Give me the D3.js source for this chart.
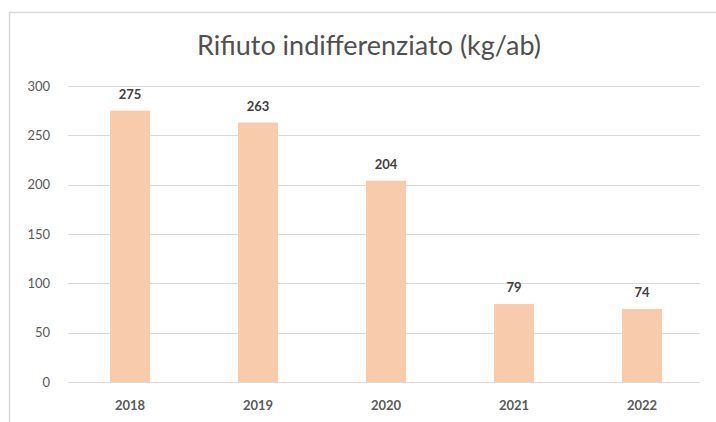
<!DOCTYPE html>
<html>
<head>
<meta charset="utf-8">
<script src="https://cdn.jsdelivr.net/npm/d3@7"></script>
<style>
  html, body { margin: 0; padding: 0; background: #fff; }
  svg { display: block; }
  text { font-family: Lato, "Open Sans", sans-serif; }
</style>
</head>
<body>
<svg id="chart" width="716" height="422"></svg>
<script>
const title = "Rifiuto indifferenziato (kg/ab)";
const years = ["2018", "2019", "2020", "2021", "2022"];
const values = [275, 263, 204, 79, 74];
const yTicks = [0, 50, 100, 150, 200, 250, 300];

const svg = d3.select("#chart");
const W = 716, H = 422;

svg.append("rect").attr("x", 0).attr("y", 0).attr("width", W).attr("height", H).attr("fill", "#fff");
svg.append("line").attr("x1", 9.5).attr("x2", 9.5).attr("y1", 12).attr("y2", H).attr("stroke", "#d9d9d9").attr("stroke-width", 1.5);
svg.append("line").attr("x1", 9).attr("x2", W).attr("y1", 12.5).attr("y2", 12.5).attr("stroke", "#d9d9d9").attr("stroke-width", 1.5);

const x = d3.scaleBand().domain(years).range([66, 706]).paddingInner(0.6875).paddingOuter(0.34375);
const y = d3.scaleLinear().domain([0, 300]).range([382, 86]);

svg.append("g").selectAll("line").data(yTicks).join("line")
  .attr("x1", 68).attr("x2", 700)
  .attr("y1", d => Math.round(y(d)) + 0.5).attr("y2", d => Math.round(y(d)) + 0.5)
  .attr("stroke", "#d9d9d9").attr("stroke-width", 1);

svg.append("g").selectAll("text").data(yTicks).join("text")
  .attr("x", 50).attr("y", d => y(d)).attr("dy", "0.35em")
  .attr("text-anchor", "end").attr("font-size", 13).attr("fill", "#595959")
  .text(d => d);

svg.append("g").selectAll("rect").data(values).join("rect")
  .attr("x", (d, i) => x(years[i])).attr("width", x.bandwidth())
  .attr("y", d => y(d)).attr("height", d => y(0) - y(d))
  .attr("fill", "#f8cbad");

svg.append("g").selectAll("text").data(values).join("text")
  .attr("x", (d, i) => x(years[i]) + x.bandwidth() / 2)
  .attr("y", d => y(d) - 12)
  .attr("text-anchor", "middle").attr("font-size", 13).attr("font-weight", "bold").attr("fill", "#404040")
  .text(d => d);

svg.append("g").selectAll("text").data(years).join("text")
  .attr("x", d => x(d) + x.bandwidth() / 2).attr("y", 410)
  .attr("text-anchor", "middle").attr("font-size", 13).attr("font-weight", "bold").attr("fill", "#595959")
  .text(d => d);

svg.append("text").attr("x", 369).attr("y", 55)
  .attr("text-anchor", "middle").attr("font-size", 27).attr("fill", "#505050")
  .text(title);
</script>
</body>
</html>
